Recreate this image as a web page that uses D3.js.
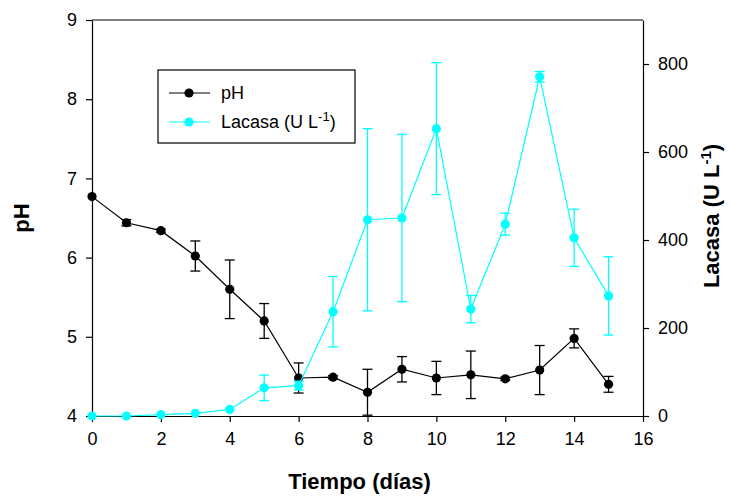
<!DOCTYPE html>
<html>
<head>
<meta charset="utf-8">
<script src="https://cdn.jsdelivr.net/npm/d3@7"></script>
<style>
  body { margin: 0; background: #fff; }
  text { font-family: "Liberation Sans", Arial, sans-serif; }
</style>
</head>
<body>
<div id="viz"></div>
<script>
var dias = [0, 1, 2, 3, 4, 5, 6, 7, 8, 9, 10, 11, 12, 13, 14, 15];
var phVals = [6.77, 6.44, 6.34, 6.02, 5.60, 5.20, 4.48, 4.49, 4.30, 4.59, 4.48, 4.52, 4.47, 4.58, 4.98, 4.40];
var phErr  = [0.00, 0.04, 0.02, 0.19, 0.37, 0.22, 0.19, 0.02, 0.29, 0.16, 0.21, 0.30, 0.02, 0.31, 0.12, 0.10];
var lacVals = [0, 0, 3, 6, 15, 64, 69, 237, 446, 450, 653, 243, 436, 771, 405, 273];
var lacErr  = [0, 0, 0, 0, 0, 29, 10, 80, 207, 190, 150, 31, 25, 12, 65, 89];
var xTicks = [0, 2, 4, 6, 8, 10, 12, 14, 16];
var phTicks = [4, 5, 6, 7, 8, 9];
var lacTicks = [0, 200, 400, 600, 800];

var screenWidth = 731,
    screenHeight = 498,
    margin = {"top": 20, "left": 92, "right": 88, "bottom": 82},
    canvasWidth = screenWidth - margin.left - margin.right,   // 551
    canvasHeight = screenHeight - margin.top - margin.bottom; // 396

var svg = d3.select("div#viz")
            .append("svg")
            .attr("width", screenWidth)
            .attr("height", screenHeight);

var g = svg.append("g")
           .attr("transform", "translate(" + margin.left + "," + margin.top + ")");

var xScale = d3.scaleLinear().domain([0, 16]).range([0, canvasWidth]),
    yScale = d3.scaleLinear().domain([4, 9]).range([canvasHeight, 0]),
    y2Scale = d3.scaleLinear().domain([0, 900]).range([canvasHeight, 0]);

// frame (top line)
g.append("line")
 .attr("x1", 0).attr("x2", canvasWidth)
 .attr("y1", 0).attr("y2", 0)
 .attr("stroke", "#000").attr("stroke-width", 1);

function styleAxis(sel) {
  sel.selectAll("text").style("font-size", "18px").attr("fill", "#000");
  sel.selectAll("path, line").attr("stroke", "#000").attr("stroke-width", 1.2);
}

g.append("g")
 .attr("transform", "translate(0," + canvasHeight + ")")
 .call(d3.axisBottom(xScale).tickValues(xTicks).tickFormat(d3.format("d"))
         .tickSize(6).tickSizeOuter(0).tickPadding(10))
 .call(styleAxis);

g.append("g")
 .call(d3.axisLeft(yScale).tickValues(phTicks).tickFormat(d3.format("d"))
         .tickSize(6).tickSizeOuter(0).tickPadding(9))
 .call(styleAxis);

g.append("g")
 .attr("transform", "translate(" + canvasWidth + ",0)")
 .call(d3.axisRight(y2Scale).tickValues(lacTicks).tickFormat(d3.format("d"))
         .tickSize(6).tickSizeOuter(0).tickPadding(9))
 .call(styleAxis);

// draws one series with error bars
function drawSeries(vals, errs, yS, color) {
  var pts = dias.map(function(d, i) { return {x: d, y: vals[i], e: errs[i]}; });
  var grp = g.append("g");

  var bars = grp.selectAll("g.err")
                .data(pts.filter(function(d) { return d.e > 0; }))
                .enter().append("g");
  bars.append("line")
      .attr("x1", function(d) { return xScale(d.x); })
      .attr("x2", function(d) { return xScale(d.x); })
      .attr("y1", function(d) { return yS(d.y - d.e); })
      .attr("y2", function(d) { return yS(d.y + d.e); });
  bars.append("line")
      .attr("x1", function(d) { return xScale(d.x) - 5; })
      .attr("x2", function(d) { return xScale(d.x) + 5; })
      .attr("y1", function(d) { return yS(d.y + d.e); })
      .attr("y2", function(d) { return yS(d.y + d.e); });
  bars.append("line")
      .attr("x1", function(d) { return xScale(d.x) - 5; })
      .attr("x2", function(d) { return xScale(d.x) + 5; })
      .attr("y1", function(d) { return yS(d.y - d.e); })
      .attr("y2", function(d) { return yS(d.y - d.e); });
  bars.selectAll("line").attr("stroke", color).attr("stroke-width", 1.3);

  grp.append("path")
     .datum(pts)
     .attr("fill", "none")
     .attr("stroke", color)
     .attr("stroke-width", 1.2)
     .attr("d", d3.line().x(function(d) { return xScale(d.x); })
                         .y(function(d) { return yS(d.y); }));

  grp.selectAll("circle")
     .data(pts)
     .enter().append("circle")
     .attr("cx", function(d) { return xScale(d.x); })
     .attr("cy", function(d) { return yS(d.y); })
     .attr("r", 4.6)
     .attr("fill", color);
}

drawSeries(phVals, phErr, yScale, "#000");
drawSeries(lacVals, lacErr, y2Scale, "#00ffff");

// legend
var leg = svg.append("g");
leg.append("rect")
   .attr("x", 158).attr("y", 70)
   .attr("width", 197).attr("height", 73)
   .attr("fill", "#fff").attr("stroke", "#000").attr("stroke-width", 1.2);

var legItems = [{c: "#000", y: 93}, {c: "#00ffff", y: 122}];
legItems.forEach(function(it) {
  leg.append("line").attr("x1", 169).attr("x2", 210)
     .attr("y1", it.y).attr("y2", it.y)
     .attr("stroke", it.c).attr("stroke-width", 1.2);
  leg.append("circle").attr("cx", 189).attr("cy", it.y).attr("r", 4.6).attr("fill", it.c);
});
leg.append("text").attr("x", 221).attr("y", 99).style("font-size", "18px").text("pH");
var lt = leg.append("text").attr("x", 221).attr("y", 128).style("font-size", "18px");
lt.append("tspan").text("Lacasa (U L");
lt.append("tspan").attr("dy", -7).style("font-size", "13px").text("-1");
lt.append("tspan").attr("dy", 7).text(")");

// axis titles
svg.append("text")
   .attr("x", margin.left + canvasWidth / 2 - 8)
   .attr("y", 489)
   .style("text-anchor", "middle")
   .style("font-size", "22px")
   .style("font-weight", "bold")
   .text("Tiempo (días)");

svg.append("text")
   .attr("transform", "translate(29,218) rotate(-90)")
   .style("text-anchor", "middle")
   .style("font-size", "22px")
   .style("font-weight", "bold")
   .text("pH");

var rt = svg.append("text")
   .attr("transform", "translate(719,216) rotate(-90)")
   .style("text-anchor", "middle")
   .style("font-size", "22px")
   .style("font-weight", "bold");
rt.append("tspan").text("Lacasa (U L");
rt.append("tspan").attr("dy", -8).style("font-size", "15px").text("-1");
rt.append("tspan").attr("dy", 8).text(")");
</script>
</body>
</html>
